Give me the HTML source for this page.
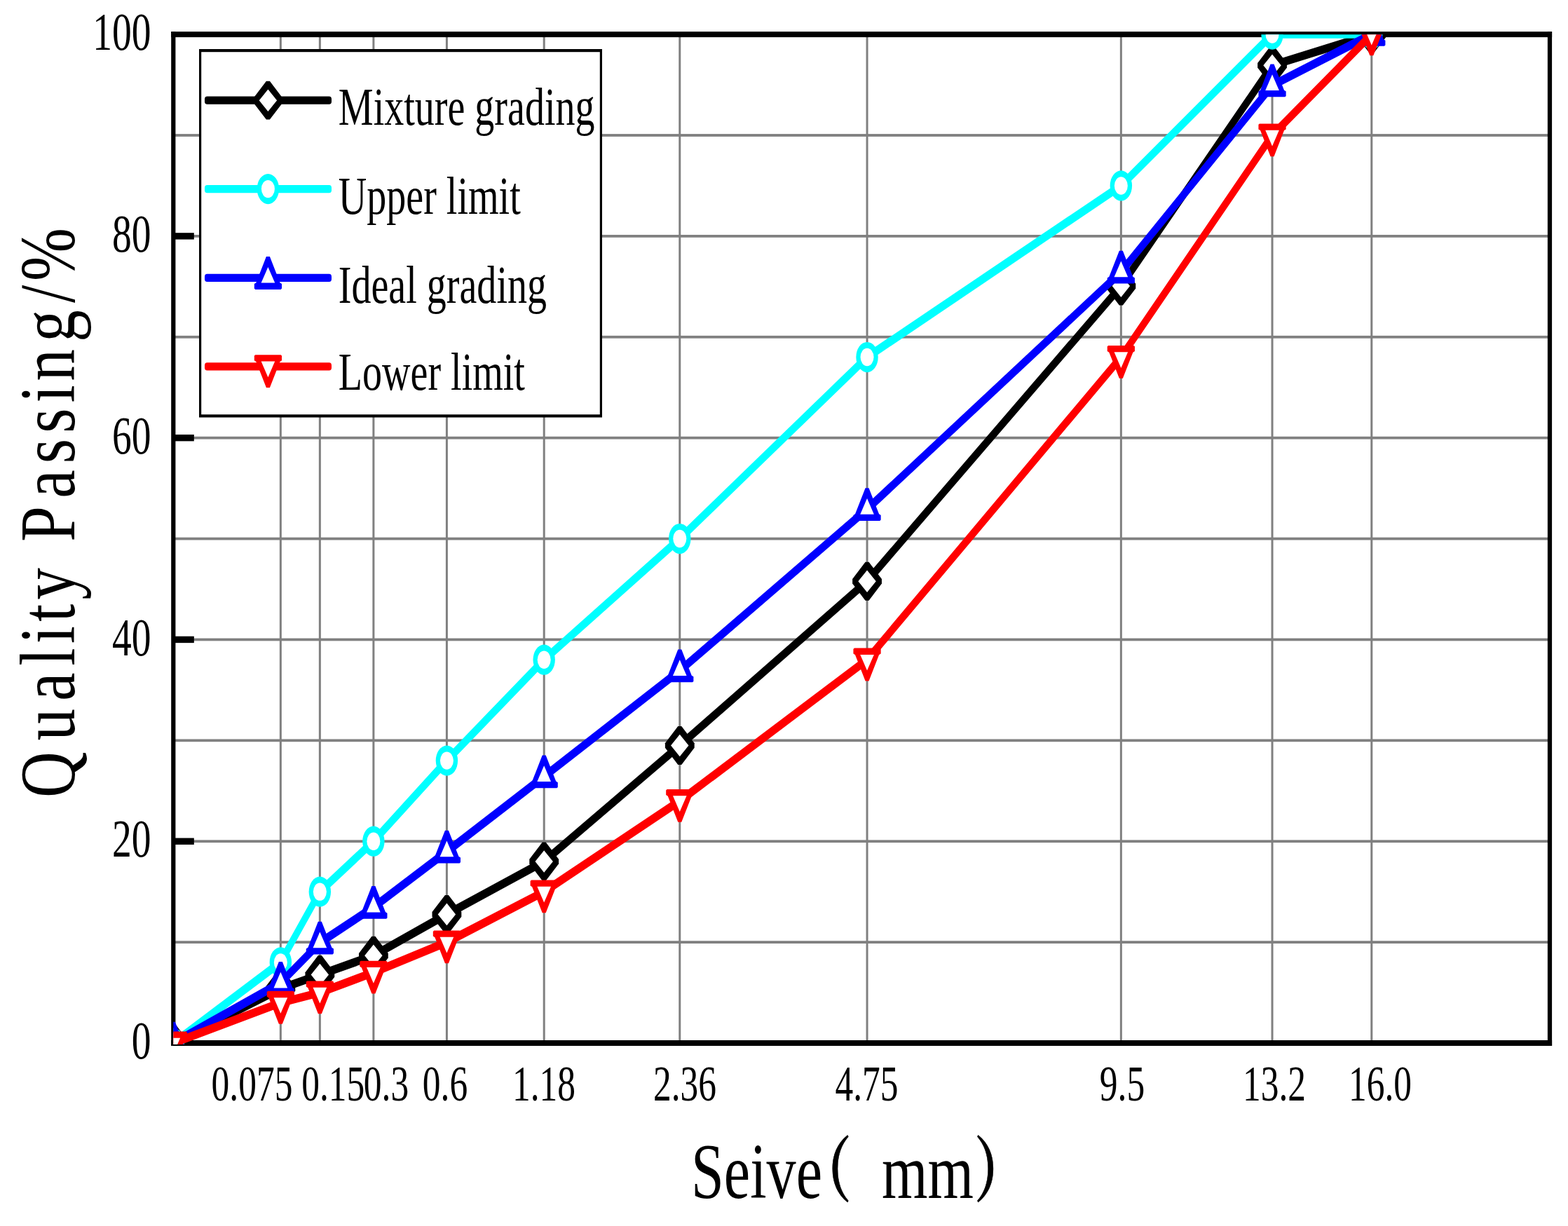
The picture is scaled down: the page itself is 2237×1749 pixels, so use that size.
<!DOCTYPE html>
<html lang="en">
<head>
<meta charset="utf-8">
<title>Gradation curve</title>
<style>
html,body{margin:0;padding:0;background:#fff}
body{width:2237px;height:1749px;overflow:hidden}
svg{display:block}
text{fill:#000;white-space:pre}
</style>
</head>
<body>
<svg width="2237" height="1749" viewBox="0 0 2237 1749">
<rect x="0" y="0" width="2237" height="1749" fill="#fff"/>
<g id="grid">
<rect x="398.84" y="49.1" width="3" height="1438.9" fill="#808080"/><rect x="454.85" y="49.1" width="3" height="1438.9" fill="#808080"/><rect x="531.37" y="49.1" width="3" height="1438.9" fill="#808080"/><rect x="635.91" y="49.1" width="3" height="1438.9" fill="#808080"/><rect x="774.69" y="49.1" width="3" height="1438.9" fill="#808080"/><rect x="968.28" y="49.1" width="3" height="1438.9" fill="#808080"/><rect x="1235.55" y="49.1" width="3" height="1438.9" fill="#808080"/><rect x="1597.84" y="49.1" width="3" height="1438.9" fill="#808080"/><rect x="1813.54" y="49.1" width="3" height="1438.9" fill="#808080"/><rect x="1955.3" y="49.1" width="3" height="1438.9" fill="#808080"/><rect x="247.3" y="1342.21" width="1963.7" height="3.8" fill="#808080"/><rect x="247.3" y="1198.32" width="1963.7" height="3.8" fill="#808080"/><rect x="247.3" y="1054.43" width="1963.7" height="3.8" fill="#808080"/><rect x="247.3" y="910.54" width="1963.7" height="3.8" fill="#808080"/><rect x="247.3" y="766.65" width="1963.7" height="3.8" fill="#808080"/><rect x="247.3" y="622.76" width="1963.7" height="3.8" fill="#808080"/><rect x="247.3" y="478.87" width="1963.7" height="3.8" fill="#808080"/><rect x="247.3" y="334.98" width="1963.7" height="3.8" fill="#808080"/><rect x="247.3" y="191.09" width="1963.7" height="3.8" fill="#808080"/>
</g>
<g id="axes">
<rect x="244.2" y="45.1" width="6.2" height="1446.9" fill="#000"/><rect x="2207.9" y="45.1" width="6.2" height="1446.9" fill="#000"/><rect x="244.2" y="45.1" width="1969.9" height="8" fill="#000"/><rect x="244.2" y="1484" width="1969.9" height="8" fill="#000"/><rect x="247.3" y="1195.52" width="29.5" height="9.4" fill="#000"/><rect x="247.3" y="907.74" width="29.5" height="9.4" fill="#000"/><rect x="247.3" y="619.96" width="29.5" height="9.4" fill="#000"/><rect x="247.3" y="332.18" width="29.5" height="9.4" fill="#000"/>
</g>
<svg id="data" x="247.3" y="49.3" width="1963.7" height="1440.7" viewBox="247.3 49.3 1963.7 1440.7" overflow="hidden">
<path d="M244.4,1483.35 245.3,1482.45 398.34,1404.75 402.34,1404.75 403.24,1405.65 403.24,1414.95 402.34,1415.85 249.3,1493.55 245.3,1493.55 244.4,1492.65ZM397.44,1405.65 398.34,1404.75 454.35,1384.89 458.35,1384.89 459.25,1385.79 459.25,1395.09 458.35,1395.99 402.34,1415.85 398.34,1415.85 397.44,1414.95ZM453.45,1385.79 454.35,1384.89 530.87,1357.7 534.87,1357.7 535.77,1358.6 535.77,1367.9 534.87,1368.8 458.35,1395.99 454.35,1395.99 453.45,1395.09ZM529.97,1358.6 530.87,1357.7 635.41,1298.85 639.41,1298.85 640.31,1299.75 640.31,1309.05 639.41,1309.95 534.87,1368.8 530.87,1368.8 529.97,1367.9ZM634.51,1299.75 635.41,1298.85 774.19,1223.45 778.19,1223.45 779.09,1224.35 779.09,1233.65 778.19,1234.55 639.41,1309.95 635.41,1309.95 634.51,1309.05ZM773.29,1224.35 774.19,1223.45 967.78,1057.97 971.78,1057.97 972.68,1058.87 972.68,1068.17 971.78,1069.07 778.19,1234.55 774.19,1234.55 773.29,1233.65ZM966.88,1058.87 967.78,1057.97 1235.05,823.72 1239.05,823.72 1239.95,824.62 1239.95,833.92 1239.05,834.82 971.78,1069.07 967.78,1069.07 966.88,1068.17ZM1234.15,824.62 1596.44,403.46 1597.34,402.56 1601.34,402.56 1602.24,403.46 1602.24,412.76 1239.95,833.92 1239.05,834.82 1235.05,834.82 1234.15,833.92ZM1596.44,403.46 1812.14,88.62 1813.04,87.72 1817.04,87.72 1817.94,88.62 1817.94,97.92 1602.24,412.76 1601.34,413.66 1597.34,413.66 1596.44,412.76ZM1812.14,88.62 1813.04,87.72 1954.8,43.55 1958.8,43.55 1959.7,44.45 1959.7,53.75 1958.8,54.65 1817.04,98.82 1813.04,98.82 1812.14,97.92Z" fill="#000000"/>
<polygon points="244.8,1460.6 249.8,1460.6 268.2,1484.7 268.2,1491.3 249.8,1515.4 244.8,1515.4 226.4,1491.3 226.4,1484.7" fill="#000000"/><polygon points="247.3,1472.2 260,1488 247.3,1503.8 234.6,1488" fill="#fff"/><polygon points="397.84,1382.9 402.84,1382.9 421.24,1407 421.24,1413.6 402.84,1437.7 397.84,1437.7 379.44,1413.6 379.44,1407" fill="#000000"/><polygon points="400.34,1394.5 413.04,1410.3 400.34,1426.1 387.64,1410.3" fill="#fff"/><polygon points="453.85,1363.04 458.85,1363.04 477.25,1387.14 477.25,1393.74 458.85,1417.84 453.85,1417.84 435.45,1393.74 435.45,1387.14" fill="#000000"/><polygon points="456.35,1374.64 469.05,1390.44 456.35,1406.24 443.65,1390.44" fill="#fff"/><polygon points="530.37,1335.85 535.37,1335.85 553.77,1359.95 553.77,1366.55 535.37,1390.65 530.37,1390.65 511.97,1366.55 511.97,1359.95" fill="#000000"/><polygon points="532.87,1347.45 545.57,1363.25 532.87,1379.05 520.17,1363.25" fill="#fff"/><polygon points="634.91,1277 639.91,1277 658.31,1301.1 658.31,1307.7 639.91,1331.8 634.91,1331.8 616.51,1307.7 616.51,1301.1" fill="#000000"/><polygon points="637.41,1288.6 650.11,1304.4 637.41,1320.2 624.71,1304.4" fill="#fff"/><polygon points="773.69,1201.6 778.69,1201.6 797.09,1225.7 797.09,1232.3 778.69,1256.4 773.69,1256.4 755.29,1232.3 755.29,1225.7" fill="#000000"/><polygon points="776.19,1213.2 788.89,1229 776.19,1244.8 763.49,1229" fill="#fff"/><polygon points="967.28,1036.12 972.28,1036.12 990.68,1060.22 990.68,1066.82 972.28,1090.92 967.28,1090.92 948.88,1066.82 948.88,1060.22" fill="#000000"/><polygon points="969.78,1047.72 982.48,1063.52 969.78,1079.32 957.08,1063.52" fill="#fff"/><polygon points="1234.55,801.87 1239.55,801.87 1257.95,825.97 1257.95,832.57 1239.55,856.67 1234.55,856.67 1216.15,832.57 1216.15,825.97" fill="#000000"/><polygon points="1237.05,813.47 1249.75,829.27 1237.05,845.07 1224.35,829.27" fill="#fff"/><polygon points="1596.84,380.71 1601.84,380.71 1620.24,404.81 1620.24,411.41 1601.84,435.51 1596.84,435.51 1578.44,411.41 1578.44,404.81" fill="#000000"/><polygon points="1599.34,392.31 1612.04,408.11 1599.34,423.91 1586.64,408.11" fill="#fff"/><polygon points="1812.54,65.87 1817.54,65.87 1835.94,89.97 1835.94,96.57 1817.54,120.67 1812.54,120.67 1794.14,96.57 1794.14,89.97" fill="#000000"/><polygon points="1815.04,77.47 1827.74,93.27 1815.04,109.07 1802.34,93.27" fill="#fff"/><polygon points="1954.3,21.7 1959.3,21.7 1977.7,45.8 1977.7,52.4 1959.3,76.5 1954.3,76.5 1935.9,52.4 1935.9,45.8" fill="#000000"/><polygon points="1956.8,33.3 1969.5,49.1 1956.8,64.9 1944.1,49.1" fill="#fff"/>
<path d="M244.4,1483.35 245.3,1482.45 398.34,1367.34 402.34,1367.34 403.24,1368.24 403.24,1377.54 402.34,1378.44 249.3,1493.55 245.3,1493.55 244.4,1492.65ZM397.44,1368.24 453.45,1267.52 454.35,1266.62 458.35,1266.62 459.25,1267.52 459.25,1276.81 403.24,1377.54 402.34,1378.44 398.34,1378.44 397.44,1377.54ZM453.45,1267.52 454.35,1266.62 530.87,1194.67 534.87,1194.67 535.77,1195.57 535.77,1204.87 534.87,1205.77 458.35,1277.71 454.35,1277.71 453.45,1276.81ZM529.97,1195.57 634.51,1080.46 635.41,1079.56 639.41,1079.56 640.31,1080.46 640.31,1089.76 535.77,1204.87 534.87,1205.77 530.87,1205.77 529.97,1204.87ZM634.51,1080.46 773.29,936.57 774.19,935.67 778.19,935.67 779.09,936.57 779.09,945.87 640.31,1089.76 639.41,1090.66 635.41,1090.66 634.51,1089.76ZM773.29,936.57 774.19,935.67 967.78,763 971.78,763 972.68,763.9 972.68,773.2 971.78,774.1 778.19,946.77 774.19,946.77 773.29,945.87ZM966.88,763.9 967.78,763 1235.05,504 1239.05,504 1239.95,504.9 1239.95,514.2 1239.05,515.1 971.78,774.1 967.78,774.1 966.88,773.2ZM1234.15,504.9 1235.05,504 1597.34,259.38 1601.34,259.38 1602.24,260.28 1602.24,269.58 1601.34,270.48 1239.05,515.1 1235.05,515.1 1234.15,514.2ZM1596.44,260.28 1812.14,44.45 1813.04,43.55 1817.04,43.55 1817.94,44.45 1817.94,53.75 1602.24,269.58 1601.34,270.48 1597.34,270.48 1596.44,269.58ZM1812.14,44.45 1813.04,43.55 1958.8,43.55 1959.7,44.45 1959.7,53.75 1958.8,54.65 1813.04,54.65 1812.14,53.75Z" fill="#00ffff"/>
<ellipse cx="247.3" cy="1488" rx="15.7" ry="21.6" fill="#00ffff"/><ellipse cx="247.3" cy="1488" rx="9.5" ry="12.7" fill="#fff"/><ellipse cx="400.34" cy="1372.89" rx="15.7" ry="21.6" fill="#00ffff"/><ellipse cx="400.34" cy="1372.89" rx="9.5" ry="12.7" fill="#fff"/><ellipse cx="456.35" cy="1272.16" rx="15.7" ry="21.6" fill="#00ffff"/><ellipse cx="456.35" cy="1272.16" rx="9.5" ry="12.7" fill="#fff"/><ellipse cx="532.87" cy="1200.22" rx="15.7" ry="21.6" fill="#00ffff"/><ellipse cx="532.87" cy="1200.22" rx="9.5" ry="12.7" fill="#fff"/><ellipse cx="637.41" cy="1085.11" rx="15.7" ry="21.6" fill="#00ffff"/><ellipse cx="637.41" cy="1085.11" rx="9.5" ry="12.7" fill="#fff"/><ellipse cx="776.19" cy="941.22" rx="15.7" ry="21.6" fill="#00ffff"/><ellipse cx="776.19" cy="941.22" rx="9.5" ry="12.7" fill="#fff"/><ellipse cx="969.78" cy="768.55" rx="15.7" ry="21.6" fill="#00ffff"/><ellipse cx="969.78" cy="768.55" rx="9.5" ry="12.7" fill="#fff"/><ellipse cx="1237.05" cy="509.55" rx="15.7" ry="21.6" fill="#00ffff"/><ellipse cx="1237.05" cy="509.55" rx="9.5" ry="12.7" fill="#fff"/><ellipse cx="1599.34" cy="264.93" rx="15.7" ry="21.6" fill="#00ffff"/><ellipse cx="1599.34" cy="264.93" rx="9.5" ry="12.7" fill="#fff"/><ellipse cx="1815.04" cy="49.1" rx="15.7" ry="21.6" fill="#00ffff"/><ellipse cx="1815.04" cy="49.1" rx="9.5" ry="12.7" fill="#fff"/><ellipse cx="1956.8" cy="49.1" rx="15.7" ry="21.6" fill="#00ffff"/><ellipse cx="1956.8" cy="49.1" rx="9.5" ry="12.7" fill="#fff"/>
<path d="M244.4,1483.35 245.3,1482.45 398.34,1396.55 402.34,1396.55 403.24,1397.45 403.24,1406.75 402.34,1407.65 249.3,1493.55 245.3,1493.55 244.4,1492.65ZM397.44,1397.45 453.45,1340.18 454.35,1339.28 458.35,1339.28 459.25,1340.18 459.25,1349.48 403.24,1406.75 402.34,1407.65 398.34,1407.65 397.44,1406.75ZM453.45,1340.18 454.35,1339.28 530.87,1288.63 534.87,1288.63 535.77,1289.53 535.77,1298.83 534.87,1299.73 458.35,1350.38 454.35,1350.38 453.45,1349.48ZM529.97,1289.53 530.87,1288.63 635.41,1209.35 639.41,1209.35 640.31,1210.25 640.31,1219.55 639.41,1220.45 534.87,1299.73 530.87,1299.73 529.97,1298.83ZM634.51,1210.25 635.41,1209.35 774.19,1102.15 778.19,1102.15 779.09,1103.05 779.09,1112.35 778.19,1113.25 639.41,1220.45 635.41,1220.45 634.51,1219.55ZM773.29,1103.05 774.19,1102.15 967.78,951.21 971.78,951.21 972.68,952.11 972.68,961.41 971.78,962.31 778.19,1113.25 774.19,1113.25 773.29,1112.35ZM966.88,952.11 967.78,951.21 1235.05,720.84 1239.05,720.84 1239.95,721.74 1239.95,731.04 1239.05,731.94 971.78,962.31 967.78,962.31 966.88,961.41ZM1234.15,721.74 1235.05,720.84 1597.34,382.41 1601.34,382.41 1602.24,383.31 1602.24,392.61 1601.34,393.51 1239.05,731.94 1235.05,731.94 1234.15,731.04ZM1596.44,383.31 1812.14,117.11 1813.04,116.21 1817.04,116.21 1817.94,117.11 1817.94,126.41 1602.24,392.61 1601.34,393.51 1597.34,393.51 1596.44,392.61ZM1812.14,117.11 1813.04,116.21 1954.8,43.55 1958.8,43.55 1959.7,44.45 1959.7,53.75 1958.8,54.65 1817.04,127.31 1813.04,127.31 1812.14,126.41Z" fill="#0000ff"/>
<polygon points="244.8,1457.8 249.8,1457.8 264.3,1494.9 266.9,1496.6 266.9,1503.2 265.5,1504.6 229.1,1504.6 227.7,1503.2 227.7,1496.6 230.3,1494.9" fill="#0000ff"/><polygon points="247.3,1472.6 257.1,1495.3 237.5,1495.3" fill="#fff"/><polygon points="397.84,1371.9 402.84,1371.9 417.34,1409 419.94,1410.7 419.94,1417.3 418.54,1418.7 382.14,1418.7 380.74,1417.3 380.74,1410.7 383.34,1409" fill="#0000ff"/><polygon points="400.34,1386.7 410.14,1409.4 390.54,1409.4" fill="#fff"/><polygon points="453.85,1314.63 458.85,1314.63 473.35,1351.73 475.95,1353.43 475.95,1360.03 474.55,1361.43 438.15,1361.43 436.75,1360.03 436.75,1353.43 439.35,1351.73" fill="#0000ff"/><polygon points="456.35,1329.43 466.15,1352.13 446.55,1352.13" fill="#fff"/><polygon points="530.37,1263.98 535.37,1263.98 549.87,1301.08 552.47,1302.78 552.47,1309.38 551.07,1310.78 514.67,1310.78 513.27,1309.38 513.27,1302.78 515.87,1301.08" fill="#0000ff"/><polygon points="532.87,1278.78 542.67,1301.48 523.07,1301.48" fill="#fff"/><polygon points="634.91,1184.7 639.91,1184.7 654.41,1221.8 657.01,1223.5 657.01,1230.1 655.61,1231.5 619.21,1231.5 617.81,1230.1 617.81,1223.5 620.41,1221.8" fill="#0000ff"/><polygon points="637.41,1199.5 647.21,1222.2 627.61,1222.2" fill="#fff"/><polygon points="773.69,1077.5 778.69,1077.5 793.19,1114.6 795.79,1116.3 795.79,1122.9 794.39,1124.3 757.99,1124.3 756.59,1122.9 756.59,1116.3 759.19,1114.6" fill="#0000ff"/><polygon points="776.19,1092.3 785.99,1115 766.39,1115" fill="#fff"/><polygon points="967.28,926.56 972.28,926.56 986.78,963.66 989.38,965.36 989.38,971.96 987.98,973.36 951.58,973.36 950.18,971.96 950.18,965.36 952.78,963.66" fill="#0000ff"/><polygon points="969.78,941.36 979.58,964.06 959.98,964.06" fill="#fff"/><polygon points="1234.55,696.19 1239.55,696.19 1254.05,733.29 1256.65,734.99 1256.65,741.59 1255.25,742.99 1218.85,742.99 1217.45,741.59 1217.45,734.99 1220.05,733.29" fill="#0000ff"/><polygon points="1237.05,710.99 1246.85,733.69 1227.25,733.69" fill="#fff"/><polygon points="1596.84,357.76 1601.84,357.76 1616.34,394.86 1618.94,396.56 1618.94,403.16 1617.54,404.56 1581.14,404.56 1579.74,403.16 1579.74,396.56 1582.34,394.86" fill="#0000ff"/><polygon points="1599.34,372.56 1609.14,395.26 1589.54,395.26" fill="#fff"/><polygon points="1812.54,91.56 1817.54,91.56 1832.04,128.66 1834.64,130.36 1834.64,136.96 1833.24,138.36 1796.84,138.36 1795.44,136.96 1795.44,130.36 1798.04,128.66" fill="#0000ff"/><polygon points="1815.04,106.36 1824.84,129.06 1805.24,129.06" fill="#fff"/><polygon points="1954.3,18.9 1959.3,18.9 1973.8,56 1976.4,57.7 1976.4,64.3 1975,65.7 1938.6,65.7 1937.2,64.3 1937.2,57.7 1939.8,56" fill="#0000ff"/><polygon points="1956.8,33.7 1966.6,56.4 1947,56.4" fill="#fff"/>
<path d="M244.4,1483.35 245.3,1482.45 398.34,1424.89 402.34,1424.89 403.24,1425.79 403.24,1435.09 402.34,1435.99 249.3,1493.55 245.3,1493.55 244.4,1492.65ZM397.44,1425.79 398.34,1424.89 454.35,1410.51 458.35,1410.51 459.25,1411.41 459.25,1420.7 458.35,1421.61 402.34,1435.99 398.34,1435.99 397.44,1435.09ZM453.45,1411.41 454.35,1410.51 530.87,1381.73 534.87,1381.73 535.77,1382.63 535.77,1391.93 534.87,1392.83 458.35,1421.61 454.35,1421.61 453.45,1420.7ZM529.97,1382.63 530.87,1381.73 635.41,1338.56 639.41,1338.56 640.31,1339.46 640.31,1348.76 639.41,1349.66 534.87,1392.83 530.87,1392.83 529.97,1391.93ZM634.51,1339.46 635.41,1338.56 774.19,1266.62 778.19,1266.62 779.09,1267.52 779.09,1276.81 778.19,1277.71 639.41,1349.66 635.41,1349.66 634.51,1348.76ZM773.29,1267.52 774.19,1266.62 967.78,1137.11 971.78,1137.11 972.68,1138.01 972.68,1147.31 971.78,1148.21 778.19,1277.71 774.19,1277.71 773.29,1276.81ZM966.88,1138.01 967.78,1137.11 1235.05,935.67 1239.05,935.67 1239.95,936.57 1239.95,945.87 1239.05,946.77 971.78,1148.21 967.78,1148.21 966.88,1147.31ZM1234.15,936.57 1596.44,504.9 1597.34,504 1601.34,504 1602.24,504.9 1602.24,514.2 1239.95,945.87 1239.05,946.77 1235.05,946.77 1234.15,945.87ZM1596.44,504.9 1812.14,188.34 1813.04,187.44 1817.04,187.44 1817.94,188.34 1817.94,197.64 1602.24,514.2 1601.34,515.1 1597.34,515.1 1596.44,514.2ZM1812.14,188.34 1953.9,44.45 1954.8,43.55 1958.8,43.55 1959.7,44.45 1959.7,53.75 1817.94,197.64 1817.04,198.54 1813.04,198.54 1812.14,197.64Z" fill="#ff0000"/>
<polygon points="244.8,1518.2 249.8,1518.2 264.3,1481.1 266.9,1479.4 266.9,1472.8 265.5,1471.4 229.1,1471.4 227.7,1472.8 227.7,1479.4 230.3,1481.1" fill="#ff0000"/><polygon points="247.3,1503.4 257.1,1480.7 237.5,1480.7" fill="#fff"/><polygon points="397.84,1460.64 402.84,1460.64 417.34,1423.54 419.94,1421.84 419.94,1415.24 418.54,1413.84 382.14,1413.84 380.74,1415.24 380.74,1421.84 383.34,1423.54" fill="#ff0000"/><polygon points="400.34,1445.84 410.14,1423.14 390.54,1423.14" fill="#fff"/><polygon points="453.85,1446.26 458.85,1446.26 473.35,1409.15 475.95,1407.46 475.95,1400.86 474.55,1399.46 438.15,1399.46 436.75,1400.86 436.75,1407.46 439.35,1409.15" fill="#ff0000"/><polygon points="456.35,1431.46 466.15,1408.76 446.55,1408.76" fill="#fff"/><polygon points="530.37,1417.48 535.37,1417.48 549.87,1380.38 552.47,1378.68 552.47,1372.08 551.07,1370.68 514.67,1370.68 513.27,1372.08 513.27,1378.68 515.87,1380.38" fill="#ff0000"/><polygon points="532.87,1402.68 542.67,1379.98 523.07,1379.98" fill="#fff"/><polygon points="634.91,1374.31 639.91,1374.31 654.41,1337.21 657.01,1335.51 657.01,1328.91 655.61,1327.51 619.21,1327.51 617.81,1328.91 617.81,1335.51 620.41,1337.21" fill="#ff0000"/><polygon points="637.41,1359.51 647.21,1336.81 627.61,1336.81" fill="#fff"/><polygon points="773.69,1302.37 778.69,1302.37 793.19,1265.26 795.79,1263.57 795.79,1256.96 794.39,1255.57 757.99,1255.57 756.59,1256.96 756.59,1263.57 759.19,1265.26" fill="#ff0000"/><polygon points="776.19,1287.57 785.99,1264.87 766.39,1264.87" fill="#fff"/><polygon points="967.28,1172.86 972.28,1172.86 986.78,1135.76 989.38,1134.06 989.38,1127.46 987.98,1126.06 951.58,1126.06 950.18,1127.46 950.18,1134.06 952.78,1135.76" fill="#ff0000"/><polygon points="969.78,1158.06 979.58,1135.36 959.98,1135.36" fill="#fff"/><polygon points="1234.55,971.42 1239.55,971.42 1254.05,934.32 1256.65,932.62 1256.65,926.02 1255.25,924.62 1218.85,924.62 1217.45,926.02 1217.45,932.62 1220.05,934.32" fill="#ff0000"/><polygon points="1237.05,956.62 1246.85,933.92 1227.25,933.92" fill="#fff"/><polygon points="1596.84,539.75 1601.84,539.75 1616.34,502.65 1618.94,500.95 1618.94,494.35 1617.54,492.95 1581.14,492.95 1579.74,494.35 1579.74,500.95 1582.34,502.65" fill="#ff0000"/><polygon points="1599.34,524.95 1609.14,502.25 1589.54,502.25" fill="#fff"/><polygon points="1812.54,223.19 1817.54,223.19 1832.04,186.09 1834.64,184.39 1834.64,177.79 1833.24,176.39 1796.84,176.39 1795.44,177.79 1795.44,184.39 1798.04,186.09" fill="#ff0000"/><polygon points="1815.04,208.39 1824.84,185.69 1805.24,185.69" fill="#fff"/><polygon points="1954.3,79.3 1959.3,79.3 1973.8,42.2 1976.4,40.5 1976.4,33.9 1975,32.5 1938.6,32.5 1937.2,33.9 1937.2,40.5 1939.8,42.2" fill="#ff0000"/><polygon points="1956.8,64.5 1966.6,41.8 1947,41.8" fill="#fff"/>
</svg>
<g id="legend">
<rect x="284" y="70" width="575" height="525.5" fill="#000"/><rect x="287.2" y="74.2" width="568.6" height="517.1" fill="#fff"/><rect x="292" y="137.6" width="181" height="11.2" rx="3.5" ry="4" fill="#000000"/><polygon points="379.9,115.8 384.9,115.8 403.3,139.9 403.3,146.5 384.9,170.6 379.9,170.6 361.5,146.5 361.5,139.9" fill="#000000"/><polygon points="382.4,127.4 395.1,143.2 382.4,159 369.7,143.2" fill="#fff"/><text transform="translate(482.8 178.4) scale(0.7280 1)" font-family='"Liberation Serif", serif' font-size="77" text-anchor="start">Mixture grading</text>
<rect x="292" y="264" width="181" height="11.2" rx="3.5" ry="4" fill="#00ffff"/><ellipse cx="382.4" cy="269.6" rx="15.7" ry="21.6" fill="#00ffff"/><ellipse cx="382.4" cy="269.6" rx="9.5" ry="12.7" fill="#fff"/><text transform="translate(482.8 304.6) scale(0.7280 1)" font-family='"Liberation Serif", serif' font-size="77" text-anchor="start">Upper limit</text>
<rect x="292" y="390.7" width="181" height="11.2" rx="3.5" ry="4" fill="#0000ff"/><polygon points="379.9,366.1 384.9,366.1 399.4,403.2 402,404.9 402,411.5 400.6,412.9 364.2,412.9 362.8,411.5 362.8,404.9 365.4,403.2" fill="#0000ff"/><polygon points="382.4,380.9 392.2,403.6 372.6,403.6" fill="#fff"/><text transform="translate(482.8 431.7) scale(0.7280 1)" font-family='"Liberation Serif", serif' font-size="77" text-anchor="start">Ideal grading</text>
<rect x="292" y="517.2" width="181" height="11.2" rx="3.5" ry="4" fill="#ff0000"/><polygon points="379.9,553 384.9,553 399.4,515.9 402,514.2 402,507.6 400.6,506.2 364.2,506.2 362.8,507.6 362.8,514.2 365.4,515.9" fill="#ff0000"/><polygon points="382.4,538.2 392.2,515.5 372.6,515.5" fill="#fff"/><text transform="translate(482.8 556.2) scale(0.7280 1)" font-family='"Liberation Serif", serif' font-size="77" text-anchor="start">Lower limit</text>
</g>
<g id="ylabels">
<text transform="translate(215.5 1510.1) scale(0.7300 1)" font-family='"Liberation Serif", serif' font-size="76" text-anchor="end">0</text><text transform="translate(215.5 1222.32) scale(0.7300 1)" font-family='"Liberation Serif", serif' font-size="76" text-anchor="end">20</text><text transform="translate(215.5 934.54) scale(0.7300 1)" font-family='"Liberation Serif", serif' font-size="76" text-anchor="end">40</text><text transform="translate(215.5 646.76) scale(0.7300 1)" font-family='"Liberation Serif", serif' font-size="76" text-anchor="end">60</text><text transform="translate(215.5 358.98) scale(0.7300 1)" font-family='"Liberation Serif", serif' font-size="76" text-anchor="end">80</text><text transform="translate(215.5 71.2) scale(0.7300 1)" font-family='"Liberation Serif", serif' font-size="76" text-anchor="end">100</text>
</g>
<g id="xlabels">
<text transform="translate(359.5 1570) scale(0.7250 1)" font-family='"Liberation Serif", serif' font-size="71" text-anchor="middle">0.075</text><text transform="translate(475.3 1570) scale(0.7250 1)" font-family='"Liberation Serif", serif' font-size="71" text-anchor="middle">0.15</text><text transform="translate(551 1570) scale(0.7250 1)" font-family='"Liberation Serif", serif' font-size="71" text-anchor="middle">0.3</text><text transform="translate(635 1570) scale(0.7250 1)" font-family='"Liberation Serif", serif' font-size="71" text-anchor="middle">0.6</text><text transform="translate(776 1570) scale(0.7250 1)" font-family='"Liberation Serif", serif' font-size="71" text-anchor="middle">1.18</text><text transform="translate(977 1570) scale(0.7250 1)" font-family='"Liberation Serif", serif' font-size="71" text-anchor="middle">2.36</text><text transform="translate(1236.5 1570) scale(0.7250 1)" font-family='"Liberation Serif", serif' font-size="71" text-anchor="middle">4.75</text><text transform="translate(1601 1570) scale(0.7250 1)" font-family='"Liberation Serif", serif' font-size="71" text-anchor="middle">9.5</text><text transform="translate(1818 1570) scale(0.7250 1)" font-family='"Liberation Serif", serif' font-size="71" text-anchor="middle">13.2</text><text transform="translate(1969 1570) scale(0.7250 1)" font-family='"Liberation Serif", serif' font-size="71" text-anchor="middle">16.0</text>
</g>
<g id="titles">
<text transform="translate(986 1708.5) scale(0.7450 1)" font-family='"Liberation Serif", "Noto Serif CJK SC", serif' font-size="113"><tspan x="0" y="0">Seive</tspan><tspan x="206.04" y="-2.9" font-size="101" font-weight="700" stroke="#000" stroke-width="0.7">（</tspan><tspan x="365.1" y="0">mm</tspan><tspan x="542.28" y="-2.9" font-size="101" font-weight="700" stroke="#000" stroke-width="0.7">）</tspan></text>
<text transform="translate(106 1138) rotate(-90) scale(0.8050 1)" font-family='"Liberation Serif", serif' font-size="113" text-anchor="start" x="0 101.37 171.56 233.86 272.86 311.86 350.86 421.05 453.66 530.71 592.21 646.12 700.04 738.53 807.81 877.08 915.57">Quality Passing/%</text>
</g>
</svg>
</body>
</html>
